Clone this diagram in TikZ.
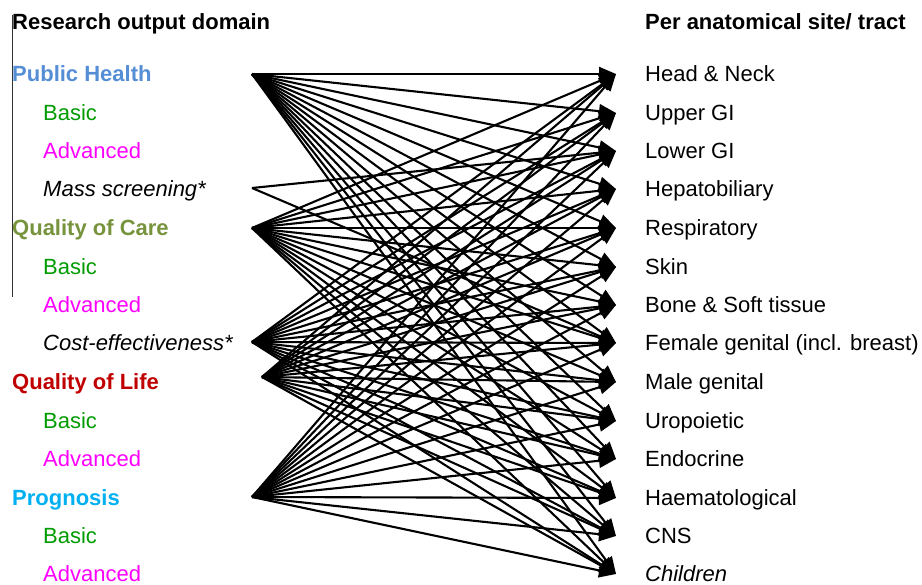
\documentclass[tikz,border=0pt]{standalone}
\usepackage{fontspec}
\setmainfont{Liberation Sans}
\usetikzlibrary{arrows.meta}
\definecolor{phc}{RGB}{85,142,213}
\definecolor{basicc}{RGB}{0,155,0}
\definecolor{advc}{RGB}{255,0,255}
\definecolor{qocc}{RGB}{119,147,60}
\definecolor{qolc}{RGB}{192,0,0}
\definecolor{progc}{RGB}{0,176,240}
\begin{document}
\begin{tikzpicture}[x=1pt,y=-1pt,
  lbl/.style={anchor=base west,inner sep=0pt,font=\fontsize{22}{24}\selectfont},
  hdr/.style={lbl,font=\fontsize{22}{24}\selectfont\bfseries},
  edge/.style={line width=2.1pt,-{Triangle[length=17pt,width=14pt]}}]
\useasboundingbox (0,0) rectangle (922,585);
\draw[line width=1pt,black!80] (12,15) -- (12,297);
% headers
\node[hdr] (h1) at (12,30) {Research output domain};
\node[hdr] (h2) at (645,30) {Per anatomical site/ tract};
% left labels
\node[hdr,text=phc] (l1) at (12,81.5) {Public Health};
\node[lbl,text=basicc] (l2) at (43,120.5) {Basic};
\node[lbl,text=advc] (l3) at (43,158.5) {Advanced};
\node[lbl] (l4) at (43,196.5) {\itshape Mass screening*};
\node[hdr,text=qocc] (l5) at (12,235.5) {Quality of Care};
\node[lbl,text=basicc] (l6) at (43,274.5) {Basic};
\node[lbl,text=advc] (l7) at (43,312.5) {Advanced};
\node[lbl] (l8) at (43,350.5) {\itshape Cost-effectiveness*};
\node[hdr,text=qolc] (l9) at (12,389.5) {Quality of Life};
\node[lbl,text=basicc] (l10) at (43,428.5) {Basic};
\node[lbl,text=advc] (l11) at (43,466.5) {Advanced};
\node[hdr,text=progc] (l12) at (12,505.5) {Prognosis};
\node[lbl,text=basicc] (l13) at (43,543.5) {Basic};
\node[lbl,text=advc] (l14) at (43,581.5) {Advanced};
% right labels
\foreach \i/\y/\t in {1/74/{Head \& Neck},2/113/{Upper GI},3/151/{Lower GI},4/189/{Hepatobiliary},
  5/228/{Respiratory},6/267/{Skin},7/305/{Bone \& Soft tissue},8/343/{Female genital (incl. breast)},
  9/382/{Male genital},10/421/{Uropoietic},11/459/{Endocrine},12/498/{Haematological},13/536/{CNS},14/574/{\itshape Children}}{
  \node[lbl] (r\i) at (645,\y+7.5) {\t};
  \coordinate (t\i) at (616,\y);
}
% sources
\coordinate (sPH) at (252,74);
\coordinate (sMS) at (252,188);
\coordinate (sQC) at (252,228);
\coordinate (sCE) at (252,342);
\coordinate (sQL) at (262,377);
\coordinate (sPR) at (252,497);
\foreach \s in {sPH,sQC,sCE,sQL,sPR}{
  \foreach \t in {1,...,14}{
    \draw[edge] (\s) -- (t\t);
  }
}
\draw[edge] (sMS) -- (t3);
\draw[edge] (sMS) -- (t8);
\end{tikzpicture}
\end{document}
